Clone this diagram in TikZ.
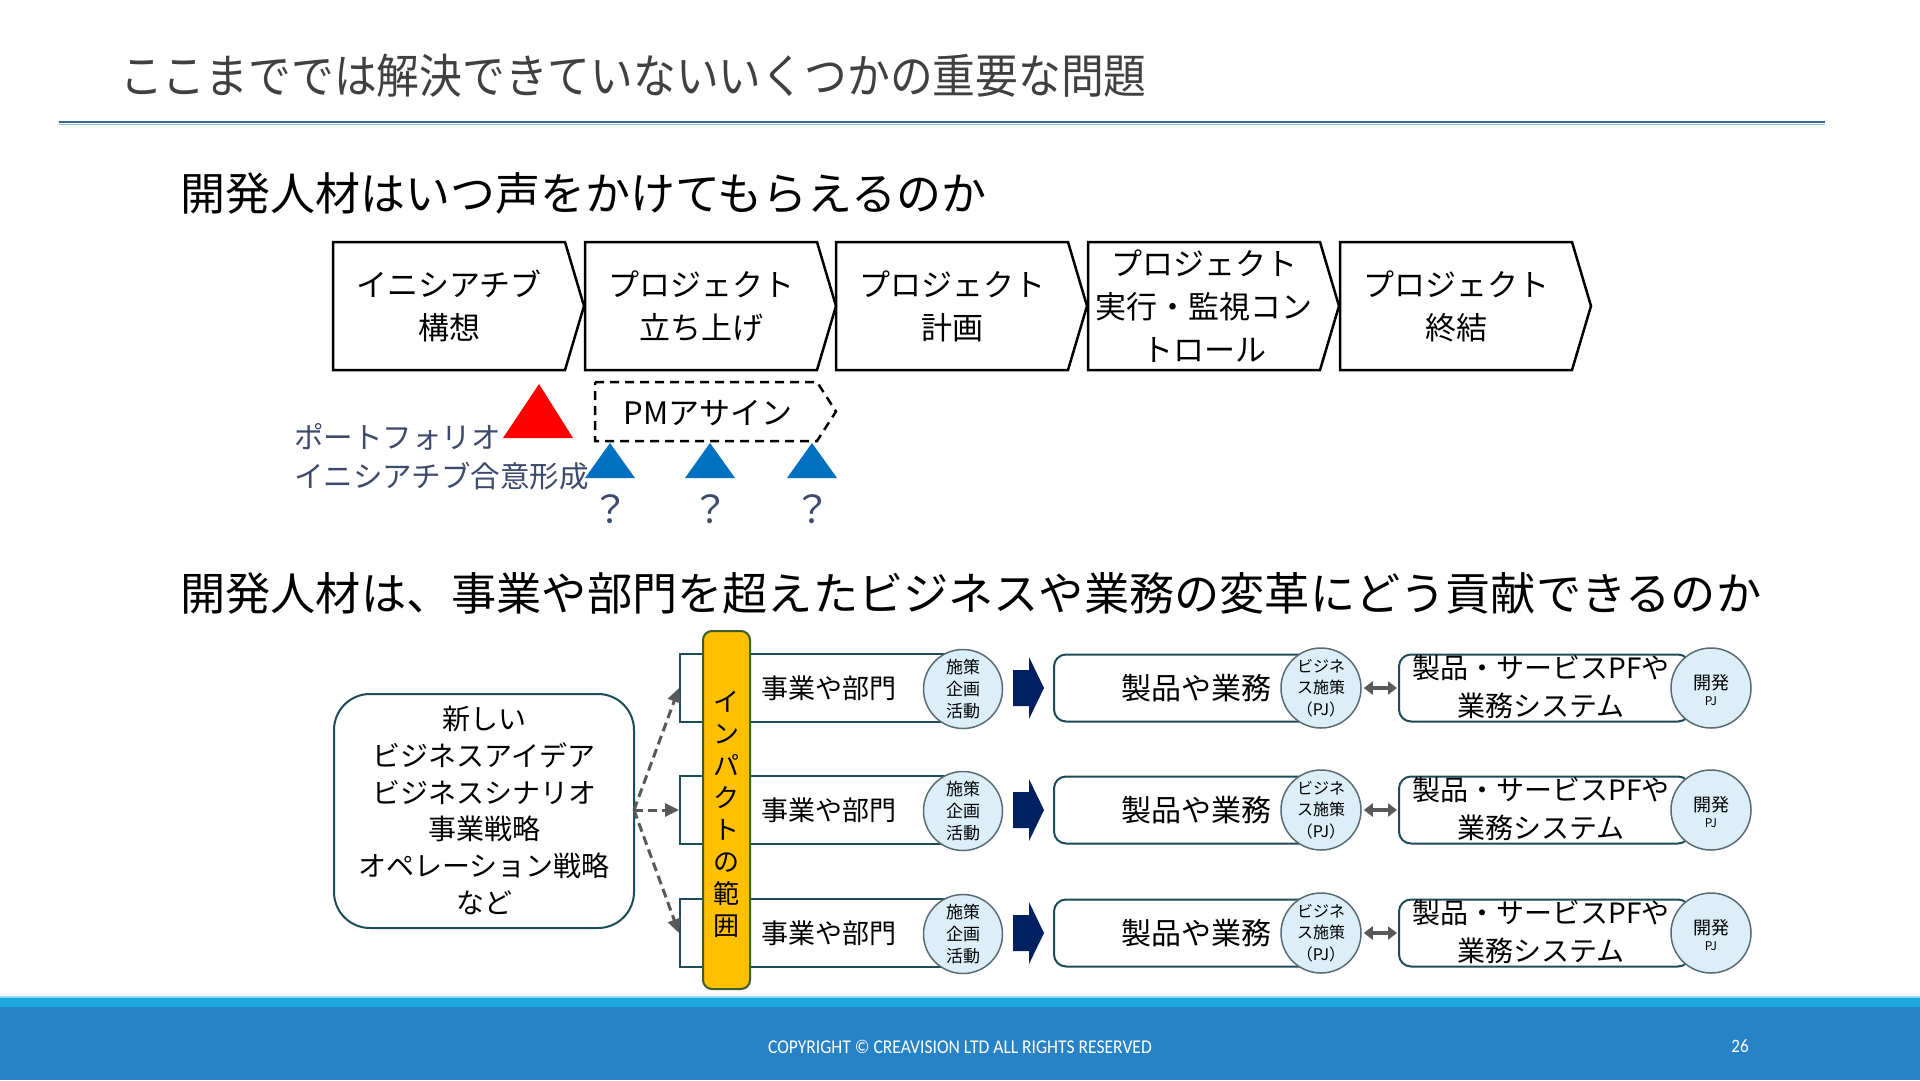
\documentclass[tikz,border=0pt]{standalone}
\usepackage{fontspec}
\setmainfont{Noto Sans CJK JP}
\newfontfamily\titlefont[FakeStretch=0.91]{Noto Sans CJK JP}
\newfontfamily\footfont[FakeStretch=0.9]{Carlito}
\usetikzlibrary{arrows.meta,shapes.geometric}
\newcommand\myfs[2]{\fontsize{#1}{#2}\selectfont}
\definecolor{titlegray}{HTML}{404040}
\definecolor{rulea}{HTML}{3A6895}
\definecolor{ruleb}{HTML}{9DB8D2}
\definecolor{slate}{HTML}{3D4A6B}
\definecolor{tribl}{HTML}{0070C0}
\definecolor{teal}{HTML}{1D4B59}
\definecolor{circfill}{HTML}{DCEFF9}
\definecolor{circdraw}{HTML}{5A6B73}
\definecolor{barfill}{HTML}{FFC000}
\definecolor{bardraw}{HTML}{3E5B2B}
\definecolor{navy}{HTML}{002060}
\definecolor{arrgray}{HTML}{595959}
\definecolor{footlight}{HTML}{8FD8F2}
\definecolor{footmid}{HTML}{1DA9E0}
\definecolor{footdark}{HTML}{2782C6}
\tikzset{
  txt/.style={inner sep=0pt, align=center},
  phase/.style={draw=black, line width=2.5pt, line join=miter},
  deptbox/.style={draw=teal, line width=2pt, fill=white, minimum width=280pt, minimum height=68pt, inner sep=0pt},
  prodbox/.style={draw=teal, line width=2pt, fill=white, rounded corners=12pt, minimum height=67pt, inner sep=0pt},
  circ/.style={ellipse, draw=circdraw, line width=1.5pt, fill=circfill, minimum width=80pt, minimum height=80pt, inner sep=0pt},
  fanarrow/.style={draw=arrgray, line width=3pt, dash pattern=on 9pt off 5pt, -{Triangle[length=14pt,width=13pt]}},
  dblarrow/.style={draw=arrgray, line width=4pt, {Triangle[length=9pt,width=13pt]}-{Triangle[length=9pt,width=13pt]}},
}
\begin{document}
\begin{tikzpicture}[x=1pt,y=-1pt]
\useasboundingbox (0,0) rectangle (1920,1080);
\fill[white] (0,0) rectangle (1920,1080);
% title
\node[txt, anchor=west, text=titlegray, font=\titlefont\myfs{47}{56}] (title) at (120,76) {ここまででは解決できていないいくつかの重要な問題};
\draw[rulea, line width=2pt] (59,121.5) -- (1825,121.5);
\draw[ruleb, line width=1.5pt] (59,124.5) -- (1825,124.5);
% subtitle 1
\node[txt, anchor=west, font=\myfs{45}{54}] (sub1) at (180,193) {開発人材はいつ声をかけてもらえるのか};
% phase boxes
\foreach \L/\nm/\tx in {333/p1/{イニシアチブ\\構想}, 585/p2/{プロジェクト\\立ち上げ}, 836/p3/{プロジェクト\\計画}, 1088/p4/{プロジェクト\\実行・監視コン\\トロール}, 1340/p5/{プロジェクト\\終結}}{
  \draw[phase] (\L,242) -- ({\L+232},242) -- ({\L+251},306) -- ({\L+232},370) -- (\L,370) -- cycle;
  \node[txt, font=\myfs{31}{43}] (\nm) at ({\L+116},306) {\tx};
}
% portfolio label
\node[txt, anchor=west, align=left, text=slate, font=\myfs{29.5}{39}] (pf) at (294,456.5) {ポートフォリオ\\イニシアチブ合意形成};
% red triangle
\fill[red] (539,384) -- (573,438) -- (503,438) -- cycle;
% PM assign
\draw[black, line width=2.5pt, dash pattern=on 9pt off 6pt] (595,382) -- (817,382) -- (836,411.5) -- (817,441) -- (595,441) -- cycle;
\node[txt, font=\myfs{31}{36}] (pm) at (708,413) {PMアサイン};
% blue triangles and question marks
\foreach \X/\nm in {610/q1, 710/q2, 812/q3}{
  \fill[tribl] (\X,443) -- ({\X+25},478) -- ({\X-25},478) -- cycle;
  \node[txt, text=slate, font=\myfs{38}{42}] (\nm) at (\X,509) {？};
}
% subtitle 2
\node[txt, anchor=west, font=\myfs{45.2}{54}] (sub2) at (180,593) {開発人材は、事業や部門を超えたビジネスや業務の変革にどう貢献できるのか};
% idea box
\node[draw=teal, line width=2pt, rounded corners=36pt, minimum width=300pt, minimum height=234pt, inner sep=0pt] (idea) at (484,811) {};
\node[txt, font=\myfs{28}{36.7}] (ideatxt) at (484,810.5) {新しい\\ビジネスアイデア\\ビジネスシナリオ\\事業戦略\\オペレーション戦略\\など};
\coordinate (src) at (634,810);
% rows
\foreach \Y/\r in {688/1, 810/2, 933/3}{
  \node[deptbox] (dept\r) at (820,\Y) {};
  \draw[fanarrow] (src) -- (dept\r.west);
  \node[txt, font=\myfs{27}{32}] (depttxt\r) at (829,\Y) {事業や部門};
  \node[circ, minimum width=79pt, minimum height=79pt] (ca\r) at (963,{\Y+1}) {};
  \node[txt, font=\myfs{17}{22}] (catxt\r) at (963,{\Y+1}) {施策\\企画\\活動};
  \fill[navy] (1013,{\Y-18}) -- (1029,{\Y-18}) -- (1029,{\Y-31}) -- (1044,\Y) -- (1029,{\Y+31}) -- (1029,{\Y+18}) -- (1013,{\Y+18}) -- cycle;
  \node[prodbox, minimum width=266pt] (prod\r) at (1187,\Y) {};
  \node[txt, font=\myfs{30}{34}] (prodtxt\r) at (1196,\Y) {製品や業務};
  \node[circ] (cb\r) at (1321,\Y) {};
  \node[txt, font=\myfs{16}{21.5}] (cbtxt\r) at (1321,\Y) {ビジネ\\ス施策\\（PJ）};
  \node[prodbox, minimum width=291pt] (sys\r) at (1544.5,\Y) {};
  \draw[dblarrow, shorten <=2pt, shorten >=1pt] (cb\r.east) -- (sys\r.west);
  \node[txt, font=\myfs{28}{38}] (systxt\r) at (1541,{\Y-1}) {製品・サービスPFや\\業務システム};
  \node[circ] (cc\r) at (1711,\Y) {};
  \node[txt, font=\myfs{18}{20}] (cctxt\r) at (1711,{\Y-5}) {開発};
  \node[txt, font=\myfs{12}{14}] (ccpj\r) at (1711,{\Y+13}) {PJ};
}
% impact bar
\node[fill=barfill, draw=bardraw, line width=2pt, rounded corners=9pt, minimum width=47pt, minimum height=358pt, inner sep=0pt] (bar) at (726.5,810) {};
\node[txt, font=\myfs{26}{32}] (bartxt) at (726.5,814.5) {イ\\ン\\パ\\ク\\ト\\の\\範\\囲};
% footer
\fill[footlight] (0,995.5) rectangle (1920,998);
\fill[footmid] (0,998) rectangle (1920,1007);
\fill[footdark] (0,1007) rectangle (1920,1080);
\node[txt, text=white, font=\footfont\myfs{19.5}{22}] (copy) at (960,1047) {COPYRIGHT © CREAVISION LTD ALL RIGHTS RESERVED};
\node[txt, text=white, font=\footfont\myfs{19}{22}] (page) at (1740,1046) {26};
\end{tikzpicture}
\end{document}
